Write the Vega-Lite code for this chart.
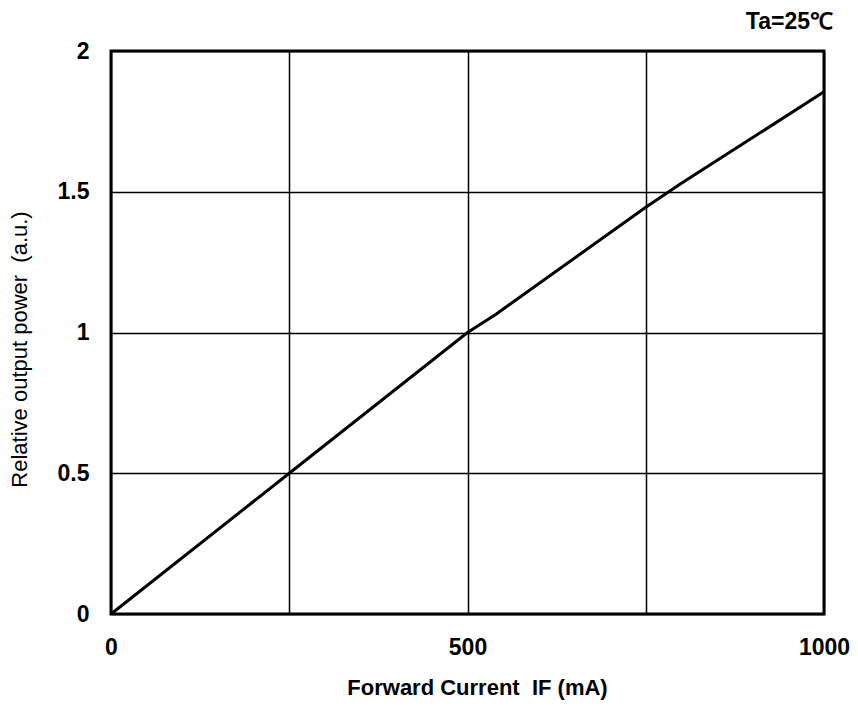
{
  "$schema": "https://vega.github.io/schema/vega-lite/v6.json",
  "width": 713,
  "height": 563,
  "autosize": "none",
  "padding": {"left": 111, "top": 51, "right": 34, "bottom": 97},
  "background": "white",
  "title": {
    "text": "Ta=25℃",
    "anchor": "end",
    "frame": "group",
    "orient": "top",
    "dx": 9,
    "offset": 6,
    "fontSize": 23,
    "fontWeight": "bold",
    "font": "Liberation Sans",
    "color": "black"
  },
  "config": {
    "view": {"stroke": "black", "strokeWidth": 3},
    "axis": {
      "grid": true,
      "gridColor": "black",
      "gridWidth": 1.5,
      "gridOpacity": 1,
      "domain": false,
      "ticks": false,
      "labelFont": "Liberation Sans",
      "labelFontWeight": "bold",
      "labelFontSize": 23,
      "labelColor": "black",
      "titleFont": "Liberation Sans",
      "titleColor": "black"
    }
  },
  "data": {
    "values": [
      {"current": 0, "power": 0},
      {"current": 250, "power": 0.5},
      {"current": 500, "power": 1.0},
      {"current": 540, "power": 1.065},
      {"current": 750, "power": 1.445},
      {"current": 800, "power": 1.53},
      {"current": 1000, "power": 1.855}
    ]
  },
  "mark": {"type": "line", "color": "black", "strokeWidth": 3},
  "encoding": {
    "x": {
      "field": "current",
      "type": "quantitative",
      "scale": {"domain": [0, 1000], "nice": false},
      "axis": {
        "values": [0, 250, 500, 750, 1000],
        "labelExpr": "datum.value % 500 == 0 ? datum.label : ''",
        "format": "d",
        "labelPadding": 22,
        "title": "Forward Current\u00a0\u00a0IF\u00a0(mA)",
        "titleFontSize": 22,
        "titleFontWeight": "bold",
        "titlePadding": 18,
        "titleX": 366,
        "labelFlush": false
      }
    },
    "y": {
      "field": "power",
      "type": "quantitative",
      "scale": {"domain": [0, 2], "nice": false},
      "axis": {
        "values": [0, 0.5, 1, 1.5, 2],
        "format": "~g",
        "labelPadding": 22,
        "title": "Relative output power\u00a0\u00a0(a.u.)",
        "titleFontSize": 22,
        "titleFontWeight": "normal",
        "titlePadding": 26,
        "titleY": 298,
        "labelFlush": false
      }
    }
  }
}
